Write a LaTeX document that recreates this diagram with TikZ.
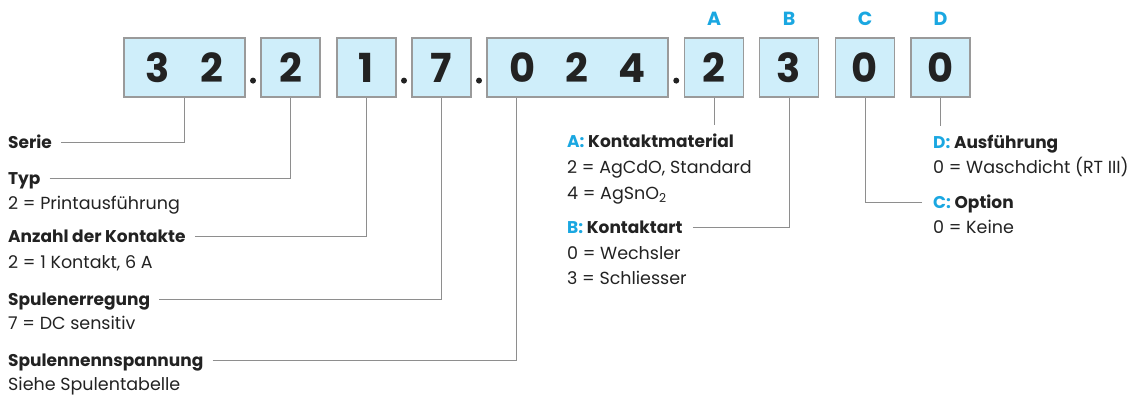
\documentclass[tikz,border=0pt]{standalone}
\usepackage{fontspec}
\setmainfont{Poppins}
\usetikzlibrary{calc}
\definecolor{cy}{HTML}{1AA7E1}
\definecolor{boxfill}{HTML}{CFEEFA}
\definecolor{boxline}{HTML}{9A9A9A}
\definecolor{linegray}{HTML}{8E8E8E}
\definecolor{ink}{HTML}{222222}
\tikzset{
  box/.style={draw=boxline,line width=1.2pt,fill=boxfill,minimum height=59pt,inner sep=0pt,font=\fontsize{40}{40}\bfseries,text=ink},
  conn/.style={draw=linegray,line width=1pt},
  head/.style={anchor=west,inner sep=0pt,text height=12pt,text depth=0pt,font=\fontsize{17}{17}\bfseries,text=ink},
  val/.style={head,font=\fontsize{17.5}{17.5}\selectfont},
  lett/.style={font=\fontsize{19}{19}\bfseries,text=cy,inner sep=0pt}
}
\begin{document}
\begin{tikzpicture}[x=1pt,y=-1pt]
\useasboundingbox (0,0) rectangle (1147,397);
% code boxes
\node[box,minimum width=121pt] (b1) at (184.5,67.5) {3\hspace{30pt}2};
\node[box,minimum width=181pt] (b5) at (577.5,67.5) {0\hspace{30pt}2\hspace{30pt}4};
\foreach \x/\d/\n in {290.5/2/b2,366.5/1/b3,441.5/7/b4,714/2/b6,789/3/b7,865/0/b8,940.5/0/b9}
  \node[box,minimum width=59pt] (\n) at (\x,67.5) {\d};
\foreach \a/\b in {b1/b2,b3/b4,b4/b5,b5/b6}
  \fill[ink] ($(\a.south east)!.5!(\b.south west)+(0,-17)$) circle (3pt);
\foreach \l/\n in {A/b6,B/b7,C/b8,D/b9}
  \node[lett] (l\l) at ($(\n.north)+(0,-19)$) {\l};
\coordinate (b5foot) at ($(b5.south west)+(30,0)$);
% left column
\node[head] (serie) at (8,142) {Serie};
\node[head] (typ) at (8,178) {Typ};
\node[val] (typv) at (8,203) {2 = Printausführung};
\node[head] (anz) at (8,236) {Anzahl der Kontakte};
\node[val] (anzv) at (8,262) {2 = 1 Kontakt, 6 A};
\node[head] (erreg) at (8,299) {Spulenerregung};
\node[val] (erregv) at (8,323) {7 = DC sensitiv};
\node[head] (spann) at (8,360) {Spulennennspannung};
\node[val] (spannv) at (8,384) {Siehe Spulentabelle};
\draw[conn,shorten <=9pt] (serie.east) -| (b1.south);
\draw[conn,shorten <=9pt] (typ.east) -| (b2.south);
\draw[conn,shorten <=9pt] (anz.east) -| (b3.south);
\draw[conn,shorten <=9pt] (erreg.east) -| (b4.south);
\draw[conn,shorten <=9pt] (spann.east) -| (b5foot);
% right columns
\node[head] (mat) at (567,141) {\textcolor{cy}{A:} Kontaktmaterial};
\node[val] (matv1) at (567,167) {2 = AgCdO, Standard};
\node[val] (matv2) at (567,193) {4 = AgSnO\textsubscript{2}};
\node[head] (art) at (567,227) {\textcolor{cy}{B:} Kontaktart};
\node[val] (artv1) at (567,253) {0 = Wechsler};
\node[val] (artv2) at (567,278) {3 = Schliesser};
\node[head] (ausf) at (933,142) {\textcolor{cy}{D:} Ausführung};
\node[val] (ausfv) at (933,167) {0 = Waschdicht (RT III)};
\node[head] (opt) at (933,202) {\textcolor{cy}{C:} Option};
\node[val] (optv) at (933,227) {0 = Keine};
\draw[conn,shorten >=10pt] (b6.south) -- (b6.south |- mat.north);
\draw[conn,shorten <=10pt] (art.east) -| (b7.south);
\draw[conn,shorten <=11pt] (opt.west) -| (b8.south);
\draw[conn,shorten >=10pt] (b9.south) -- (b9.south |- ausf.north);
\end{tikzpicture}
\end{document}
